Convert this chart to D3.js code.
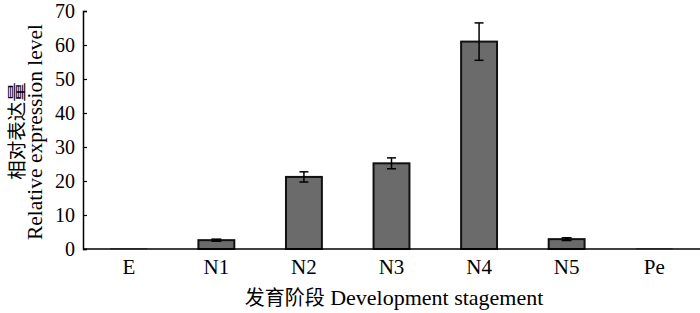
<!DOCTYPE html>
<html><head><meta charset="utf-8">
<script src="https://cdn.jsdelivr.net/npm/d3@7"></script>
<style>body{margin:0;background:#fff}svg{display:block}</style>
</head><body>
<script>
const categories = ["E","N1","N2","N3","N4","N5","Pe"];
const values = [0.15, 2.6, 21.2, 25.2, 61.0, 2.9, 0.15];
const errors = [0, 0.3, 1.5, 1.6, 5.5, 0.4, 0];
const yTicks = [0,10,20,30,40,50,60,70];
const xTitleZh = "发育阶段";
const xTitleEn = " Development stagement";
const yTitleZh = "相对表达量";
const yTitleEn = "Relative expression level";

const SERIF="'Liberation Serif','Times New Roman',serif";
const CJK="'Noto Sans CJK SC',sans-serif";
const W=700,H=313;
const svg=d3.select("body").append("svg").attr("width",W).attr("height",H);
const x=d3.scaleBand().domain(categories).range([85,698]).paddingInner(0.59).paddingOuter(0.295);
const y=d3.scaleLinear().domain([0,70]).range([249,11]);

svg.selectAll("rect.bar").data(categories).join("rect")
  .attr("x",d=>x(d)).attr("width",x.bandwidth())
  .attr("y",(d,i)=>y(values[i])).attr("height",(d,i)=>y(0)-y(values[i]))
  .attr("fill","#6b6b6b").attr("stroke",(d,i)=>values[i]>1?"#111":"#999").attr("stroke-width",(d,i)=>values[i]>1?2:1);

const eg=svg.append("g").attr("stroke","#000").attr("stroke-width",1.5);
categories.forEach((c,i)=>{
  if(!errors[i])return;
  const cx=x(c)+x.bandwidth()/2, y1=y(values[i]+errors[i]), y2=y(values[i]-errors[i]);
  const hw=errors[i]<1?5:4.5;
  eg.append("line").attr("x1",cx).attr("x2",cx).attr("y1",y1).attr("y2",y2).attr("stroke-width",errors[i]<1?4:1.5);
  eg.append("line").attr("x1",cx-hw).attr("x2",cx+hw).attr("y1",y1).attr("y2",y1);
  eg.append("line").attr("x1",cx-hw).attr("x2",cx+hw).attr("y1",y2).attr("y2",y2);
});

const ya=svg.append("g").attr("transform","translate(83,0)")
  .call(d3.axisLeft(y).tickValues(yTicks).tickSize(-4).tickPadding(8));
ya.select(".domain").attr("stroke","#000").attr("stroke-width",1.5);
ya.selectAll(".tick line").attr("stroke","#000").attr("stroke-width",1.2);
ya.selectAll("text").style("font-size","20px").style("font-family",SERIF).attr("fill","#000");

const xa=svg.append("g").attr("transform","translate(0,249)")
  .call(d3.axisBottom(x).tickSize(0).tickPadding(10));
xa.select(".domain").attr("d","M83,0H700").attr("stroke","#000").attr("stroke-width",1.5);
xa.selectAll("text").style("font-size","21px").style("font-family",SERIF).attr("fill","#000");

const xt=svg.append("text").attr("x",394).attr("y",305).attr("text-anchor","middle");
xt.append("tspan").style("font-family",CJK).style("font-size","20px").text(xTitleZh);
xt.append("tspan").style("font-family",SERIF).style("font-size","22px").text(xTitleEn);

svg.append("text").attr("transform","translate(24,131) rotate(-90)").attr("text-anchor","middle")
  .style("font-size","19.5px").style("font-family",CJK).text(yTitleZh);
svg.append("text").attr("transform","translate(42,132) rotate(-90)").attr("text-anchor","middle")
  .style("font-size","21.5px").style("font-family",SERIF).text(yTitleEn);
</script>
</body></html>
